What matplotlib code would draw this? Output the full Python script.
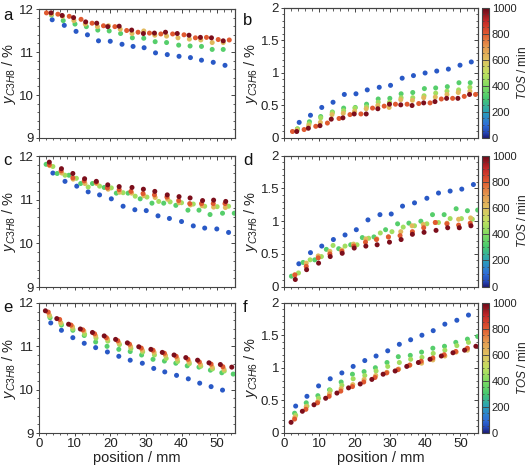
import numpy as np
import matplotlib
matplotlib.use("Agg")
import matplotlib.pyplot as plt
from matplotlib.colors import LinearSegmentedColormap, Normalize
from matplotlib.cm import ScalarMappable
from matplotlib.ticker import MultipleLocator

plt.rcParams['font.family'] = ['Liberation Sans', 'DejaVu Sans']
plt.rcParams['mathtext.fontset'] = 'custom'
plt.rcParams['mathtext.it'] = 'Liberation Sans:italic'
plt.rcParams['mathtext.rm'] = 'Liberation Sans'

# ---------------- data ----------------
# time on stream (min) of each series: blue, green, yellow-green, tan, orange, dark red
tos = [70, 330, 450, 620, 800, 980]

# panel a  (C3H8)
a_x_blue = [3.7, 7.1, 10.4, 13.6, 16.7, 20.0, 23.3, 26.4, 29.5, 32.7, 36.0, 39.3, 42.5, 45.6, 48.9, 52.2]
a_y_blue = [11.75, 11.62, 11.48, 11.40, 11.26, 11.25, 11.18, 11.13, 11.10, 10.98, 10.94, 10.90, 10.87, 10.81, 10.76, 10.69]
a_x_green = [3.5, 6.8, 10.1, 13.3, 16.5, 19.7, 22.9, 26.2, 29.4, 32.6, 35.8, 39.2, 42.4, 45.6, 48.6, 51.7]
a_y_green = [11.86, 11.73, 11.65, 11.59, 11.51, 11.49, 11.43, 11.33, 11.32, 11.24, 11.22, 11.16, 11.14, 11.13, 11.06, 11.06]
a_x_tan = [3.5, 6.6, 9.8, 13.0, 16.4, 19.5, 22.8, 26.1, 29.4, 32.5, 35.8, 39.0, 42.2, 45.4, 48.6, 51.7]
a_y_tan = [11.88, 11.83, 11.73, 11.65, 11.59, 11.61, 11.53, 11.43, 11.49, 11.39, 11.37, 11.33, 11.30, 11.28, 11.22, 11.22]
a_x_orange = [2.1, 5.3, 8.5, 11.8, 14.9, 18.1, 21.3, 24.6, 27.8, 31.0, 34.2, 37.5, 40.7, 43.9, 47.0, 50.3, 53.4]
a_y_orange = [11.91, 11.88, 11.83, 11.76, 11.67, 11.61, 11.59, 11.50, 11.46, 11.44, 11.42, 11.42, 11.40, 11.33, 11.34, 11.29, 11.28]
a_x_dred = [3.4, 6.5, 9.7, 13.1, 16.2, 19.3, 22.5, 26.0, 29.3, 32.4, 35.5, 38.8, 42.1, 45.3, 48.4, 51.7]
a_y_dred = [11.91, 11.85, 11.80, 11.70, 11.67, 11.59, 11.60, 11.51, 11.43, 11.44, 11.46, 11.43, 11.39, 11.34, 11.33, 11.26]

# panel b  (C3H6)
b_x_blue = [4.3, 7.5, 10.7, 13.9, 17.1, 20.4, 23.6, 27.0, 30.2, 33.5, 36.7, 40.0, 43.3, 46.6, 49.9, 53.1]
b_y_blue = [0.24, 0.35, 0.47, 0.55, 0.67, 0.68, 0.74, 0.78, 0.81, 0.92, 0.96, 1.00, 1.03, 1.06, 1.12, 1.17]
b_x_green = [3.8, 7.2, 10.4, 13.7, 16.9, 20.2, 23.4, 26.7, 30.0, 33.2, 36.5, 39.8, 43.0, 46.3, 49.6, 52.8]
b_y_green = [0.14, 0.25, 0.33, 0.40, 0.46, 0.47, 0.52, 0.60, 0.61, 0.68, 0.70, 0.76, 0.77, 0.79, 0.85, 0.85]
b_x_ygreen = [3.8, 7.1, 10.4, 13.7, 16.9, 20.1, 23.4, 26.7, 29.9, 33.2, 36.5, 39.7, 43.0, 46.2, 49.5, 52.7]
b_y_ygreen = [0.14, 0.22, 0.31, 0.39, 0.42, 0.46, 0.48, 0.55, 0.55, 0.62, 0.62, 0.65, 0.69, 0.72, 0.74, 0.78]
b_x_tan = [3.7, 7.0, 10.3, 13.6, 16.8, 20.0, 23.3, 26.6, 29.8, 33.1, 36.4, 39.6, 42.9, 46.2, 49.4, 52.7]
b_y_tan = [0.12, 0.19, 0.24, 0.36, 0.38, 0.41, 0.45, 0.50, 0.47, 0.59, 0.58, 0.62, 0.63, 0.67, 0.70, 0.72]
b_x_orange = [2.4, 5.7, 9.0, 12.3, 15.6, 18.7, 21.8, 25.1, 28.4, 31.6, 34.9, 38.2, 41.4, 44.6, 47.8, 51.1, 54.3]
b_y_orange = [0.10, 0.13, 0.18, 0.23, 0.30, 0.36, 0.37, 0.46, 0.49, 0.52, 0.52, 0.53, 0.54, 0.60, 0.61, 0.64, 0.67]
b_x_dred = [3.6, 6.9, 10.2, 13.4, 16.7, 19.9, 23.3, 26.6, 29.9, 33.1, 36.3, 39.6, 42.8, 46.1, 49.3, 52.6]
b_y_dred = [0.10, 0.15, 0.19, 0.29, 0.31, 0.37, 0.37, 0.45, 0.52, 0.51, 0.50, 0.54, 0.56, 0.61, 0.61, 0.67]

# panel c  (C3H8)
c_x_blue = [3.9, 7.3, 10.6, 13.8, 17.0, 20.3, 23.6, 26.9, 30.1, 33.4, 36.6, 40.0, 43.3, 46.5, 49.9, 53.2]
c_y_blue = [11.61, 11.42, 11.31, 11.18, 11.11, 11.02, 10.85, 10.77, 10.75, 10.63, 10.57, 10.50, 10.40, 10.35, 10.33, 10.25]
c_x_green = [2.0, 5.1, 8.4, 11.7, 15.0, 18.3, 21.7, 25.0, 28.4, 31.7, 35.0, 38.4, 41.8, 44.9, 48.0, 51.5, 54.8]
c_y_green = [11.81, 11.60, 11.56, 11.37, 11.37, 11.28, 11.15, 11.15, 11.02, 10.92, 10.92, 10.87, 10.76, 10.76, 10.66, 10.69, 10.69]
c_x_ygreen = [3.9, 7.3, 10.5, 13.8, 17.0, 20.3, 23.6, 27.0, 30.3, 33.6, 36.8, 40.0, 43.3, 46.5, 50.0, 53.2]
c_y_ygreen = [11.76, 11.56, 11.49, 11.29, 11.31, 11.27, 11.16, 11.08, 11.06, 10.96, 10.95, 10.93, 10.90, 10.85, 10.84, 10.85]
c_x_tan = [3.0, 6.4, 9.6, 12.9, 16.2, 19.4, 22.6, 26.0, 29.4, 32.6, 36.1, 39.3, 42.5, 45.8, 49.0, 52.3]
c_y_tan = [11.78, 11.61, 11.47, 11.37, 11.37, 11.24, 11.17, 11.15, 11.09, 11.05, 11.01, 10.93, 10.88, 10.86, 10.83, 10.82]
c_x_orange = [2.9, 6.2, 9.5, 12.7, 16.0, 19.2, 22.5, 25.8, 29.2, 32.4, 35.9, 39.2, 42.3, 45.6, 48.9, 52.2]
c_y_orange = [11.80, 11.66, 11.50, 11.43, 11.40, 11.27, 11.23, 11.19, 11.14, 11.11, 11.06, 10.98, 10.91, 10.91, 10.91, 10.91]
c_x_dred = [2.9, 6.3, 9.5, 12.8, 16.1, 19.3, 22.5, 26.1, 29.3, 32.5, 36.0, 39.3, 42.4, 45.9, 49.0, 52.4]
c_y_dred = [11.86, 11.71, 11.60, 11.48, 11.42, 11.34, 11.30, 11.28, 11.24, 11.19, 11.11, 11.07, 11.04, 10.98, 10.99, 10.96]

# panel d  (C3H6)
d_x_blue = [4.2, 7.5, 10.7, 14.0, 17.3, 20.5, 23.8, 27.2, 30.4, 33.6, 37.0, 40.5, 43.8, 47.1, 50.4, 53.7]
d_y_blue = [0.35, 0.52, 0.62, 0.72, 0.79, 0.87, 1.02, 1.10, 1.11, 1.23, 1.28, 1.35, 1.43, 1.46, 1.49, 1.56]
d_x_green = [2.1, 5.4, 8.7, 12.0, 15.5, 18.9, 22.2, 25.5, 28.8, 32.2, 35.4, 38.8, 42.1, 45.4, 48.8, 52.0, 54.9]
d_y_green = [0.16, 0.37, 0.41, 0.57, 0.58, 0.64, 0.75, 0.76, 0.87, 0.96, 0.97, 1.00, 1.10, 1.10, 1.19, 1.16, 1.17]
d_x_ygreen = [4.1, 7.4, 10.6, 13.9, 17.3, 20.7, 24.0, 27.3, 30.6, 33.8, 37.0, 40.5, 43.8, 47.1, 50.3, 53.4]
d_y_ygreen = [0.21, 0.41, 0.46, 0.63, 0.62, 0.64, 0.74, 0.82, 0.84, 0.91, 0.93, 0.96, 0.98, 1.04, 1.04, 1.03]
d_x_tan = [3.0, 6.3, 9.7, 13.0, 16.4, 19.7, 23.2, 26.3, 29.6, 33.1, 36.3, 39.5, 42.9, 46.2, 49.5, 52.9]
d_y_tan = [0.18, 0.36, 0.47, 0.54, 0.56, 0.65, 0.73, 0.73, 0.76, 0.84, 0.93, 0.95, 0.98, 0.97, 1.03, 1.05]
d_x_orange = [3.1, 6.3, 9.7, 13.0, 16.4, 19.8, 23.1, 26.2, 29.6, 32.9, 36.4, 39.6, 42.9, 46.2, 49.5, 52.8]
d_y_orange = [0.18, 0.31, 0.44, 0.50, 0.54, 0.62, 0.68, 0.72, 0.76, 0.78, 0.84, 0.90, 0.98, 0.96, 0.94, 0.97]
d_x_dred = [3.2, 6.4, 9.8, 13.1, 16.5, 19.9, 23.2, 26.4, 29.9, 33.2, 36.4, 39.7, 43.1, 46.4, 49.7, 53.0]
d_y_dred = [0.11, 0.26, 0.36, 0.46, 0.51, 0.59, 0.62, 0.64, 0.68, 0.72, 0.80, 0.83, 0.86, 0.90, 0.90, 0.93]

# panel e  (C3H8)
e_x_blue = [3.3, 6.3, 9.5, 12.7, 15.9, 19.2, 22.4, 25.6, 29.0, 32.2, 35.3, 38.6, 41.9, 45.1, 48.3, 51.5]
e_y_blue = [11.54, 11.37, 11.20, 11.07, 10.97, 10.87, 10.77, 10.68, 10.61, 10.49, 10.41, 10.33, 10.25, 10.15, 10.07, 9.99]
e_x_green = [3.1, 6.3, 9.5, 12.7, 15.9, 19.1, 22.4, 25.6, 28.8, 32.0, 35.2, 38.4, 41.6, 44.9, 48.1, 51.3, 54.5]
e_y_green = [11.66, 11.49, 11.37, 11.25, 11.10, 11.00, 10.93, 10.88, 10.80, 10.70, 10.66, 10.61, 10.55, 10.52, 10.45, 10.39, 10.36]
e_x_ygreen = [3.0, 6.2, 9.5, 12.8, 16.0, 19.3, 22.6, 25.8, 29.1, 32.4, 35.7, 38.9, 42.2, 45.4, 48.7, 52.0]
e_y_ygreen = [11.69, 11.52, 11.40, 11.28, 11.19, 11.12, 11.04, 10.95, 10.87, 10.80, 10.72, 10.65, 10.60, 10.54, 10.48, 10.43]
e_x_tan = [2.9, 6.1, 9.4, 12.6, 15.9, 19.2, 22.4, 25.7, 29.0, 32.3, 35.5, 38.8, 42.1, 45.3, 48.6, 51.9]
e_y_tan = [11.72, 11.55, 11.45, 11.35, 11.24, 11.17, 11.08, 11.00, 10.91, 10.86, 10.79, 10.71, 10.64, 10.58, 10.52, 10.47]
e_x_orange = [2.6, 5.8, 9.0, 12.3, 15.6, 18.9, 22.1, 25.4, 28.7, 32.0, 35.2, 38.5, 41.8, 45.0, 48.3, 51.6]
e_y_orange = [11.79, 11.62, 11.49, 11.38, 11.29, 11.20, 11.13, 11.05, 10.96, 10.91, 10.84, 10.77, 10.70, 10.64, 10.59, 10.53]
e_x_dred = [1.8, 5.0, 8.3, 11.6, 15.0, 18.3, 21.5, 24.8, 28.0, 31.4, 34.6, 37.9, 41.2, 44.5, 47.7, 50.9, 54.1]
e_y_dred = [11.82, 11.64, 11.51, 11.40, 11.32, 11.24, 11.16, 11.08, 10.99, 10.93, 10.86, 10.80, 10.74, 10.68, 10.62, 10.58, 10.52]

# panel f  (C3H6)
f_x_blue = [3.3, 6.5, 9.8, 13.1, 16.4, 19.6, 22.9, 26.1, 29.4, 32.7, 35.9, 39.1, 42.3, 45.6, 49.0, 52.3]
f_y_blue = [0.41, 0.56, 0.72, 0.83, 0.92, 1.02, 1.11, 1.18, 1.26, 1.36, 1.43, 1.50, 1.57, 1.67, 1.73, 1.81]
f_x_green = [3.0, 6.3, 9.6, 12.9, 16.2, 19.4, 22.7, 25.9, 29.2, 32.4, 35.8, 39.0, 42.2, 45.5, 48.7, 52.0, 54.9]
f_y_green = [0.30, 0.46, 0.57, 0.66, 0.78, 0.90, 0.94, 1.00, 1.08, 1.17, 1.19, 1.24, 1.30, 1.33, 1.39, 1.44, 1.48]
f_x_ygreen = [3.3, 6.5, 9.8, 13.1, 16.4, 19.6, 22.9, 26.1, 29.4, 32.7, 35.9, 39.1, 42.3, 45.6, 49.0, 52.3]
f_y_ygreen = [0.27, 0.41, 0.53, 0.65, 0.73, 0.83, 0.88, 0.95, 1.02, 1.08, 1.13, 1.16, 1.22, 1.27, 1.34, 1.39]
f_x_tan = [3.1, 6.3, 9.6, 12.9, 16.2, 19.5, 22.7, 26.0, 29.2, 32.5, 35.7, 39.0, 42.2, 45.6, 48.8, 52.0]
f_y_tan = [0.24, 0.40, 0.48, 0.60, 0.68, 0.74, 0.82, 0.88, 0.93, 0.98, 1.04, 1.07, 1.12, 1.18, 1.24, 1.27]
f_x_orange = [3.0, 6.2, 9.5, 12.8, 16.1, 19.4, 22.6, 25.8, 29.1, 32.3, 35.6, 38.9, 42.2, 45.4, 48.7, 52.0]
f_y_orange = [0.21, 0.36, 0.46, 0.56, 0.64, 0.71, 0.78, 0.85, 0.92, 0.97, 1.04, 1.10, 1.15, 1.20, 1.25, 1.30]
f_x_dred = [2.0, 5.2, 8.5, 11.8, 15.0, 18.3, 21.6, 24.9, 28.1, 31.5, 34.8, 38.1, 41.4, 44.6, 47.9, 51.2, 54.4]
f_y_dred = [0.16, 0.33, 0.43, 0.53, 0.61, 0.69, 0.75, 0.82, 0.90, 0.95, 1.02, 1.08, 1.13, 1.18, 1.23, 1.27, 1.33]

# ---------------- colours ----------------
cmap = LinearSegmentedColormap.from_list('tos', [
    (0.00, '#1e1e7a'), (0.04, '#2448b8'), (0.10, '#2f6ed8'),
    (0.20, '#2aa0b8'), (0.30, '#45c870'), (0.40, '#80dc60'),
    (0.50, '#c0e060'), (0.60, '#e0c060'), (0.70, '#e49a50'),
    (0.80, '#e05a30'), (0.90, '#c42828'), (1.00, '#6a0818')])
norm = Normalize(0, 1000)

GREY = '#444444'
TXT = '#222222'
fig = plt.figure(figsize=(5.29, 4.67), dpi=100)


def style(ax, left):
    ax.set_xlim(0, 55)
    ax.xaxis.set_major_locator(MultipleLocator(10))
    ax.xaxis.set_minor_locator(MultipleLocator(2))
    if left:
        ax.set_ylim(9, 12)
        ax.yaxis.set_major_locator(MultipleLocator(1))
        ax.yaxis.set_minor_locator(MultipleLocator(0.2))
    else:
        ax.set_ylim(0, 2)
        ax.set_yticks([0, 0.5, 1, 1.5, 2])
        ax.set_yticklabels(['0', '0.5', '1', '1.5', '2'])
        ax.yaxis.set_minor_locator(MultipleLocator(0.1))
    for s in ax.spines.values():
        s.set_color(GREY)
        s.set_linewidth(0.8)
    ax.tick_params(which='both', colors=GREY, labelcolor=TXT, labelsize=9.5,
                   direction='out', pad=1)
    ax.tick_params(which='major', length=2.5, width=0.7)
    ax.tick_params(which='minor', length=1.5, width=0.6)
    # inward ticks on top and right
    top = ax.secondary_xaxis('top')
    top.xaxis.set_major_locator(MultipleLocator(10))
    top.xaxis.set_minor_locator(MultipleLocator(2))
    top.tick_params(which='both', direction='in', colors=GREY, labeltop=False)
    top.tick_params(which='major', length=3, width=0.7)
    top.tick_params(which='minor', length=1.8, width=0.6)
    right = ax.secondary_yaxis('right')
    right.yaxis.set_major_locator(MultipleLocator(1 if left else 0.5))
    right.yaxis.set_minor_locator(MultipleLocator(0.2 if left else 0.1))
    right.tick_params(which='both', direction='in', colors=GREY, labelright=False)
    right.tick_params(which='major', length=3, width=0.7)
    right.tick_params(which='minor', length=1.8, width=0.6)
    for sec in (top, right):
        for s in sec.spines.values():
            s.set_color(GREY)
            s.set_linewidth(0.8)


def draw(ax, series):
    for t, (xs, ys) in zip(tos, series):
        if xs is None:
            continue
        ax.scatter(xs, ys, c=[t] * len(xs), cmap=cmap, norm=norm, s=13,
                   linewidths=0, zorder=3)


lx, lw = 0.0737, 0.3705
rx, rw = 0.5369, 0.3667
rows = [(0.7045, 0.2762), (0.3854, 0.2805), (0.0728, 0.2784)]
rrows = [(0.7045, 0.2784), (0.3861, 0.2805), (0.0734, 0.2784)]

left_data = [
    [(a_x_blue, a_y_blue), (a_x_green, a_y_green), (None, None), (a_x_tan, a_y_tan),
     (a_x_orange, a_y_orange), (a_x_dred, a_y_dred)],
    [(c_x_blue, c_y_blue), (c_x_green, c_y_green), (c_x_ygreen, c_y_ygreen), (c_x_tan, c_y_tan),
     (c_x_orange, c_y_orange), (c_x_dred, c_y_dred)],
    [(e_x_blue, e_y_blue), (e_x_green, e_y_green), (e_x_ygreen, e_y_ygreen), (e_x_tan, e_y_tan),
     (e_x_orange, e_y_orange), (e_x_dred, e_y_dred)],
]
right_data = [
    [(b_x_blue, b_y_blue), (b_x_green, b_y_green), (b_x_ygreen, b_y_ygreen), (b_x_tan, b_y_tan),
     (b_x_orange, b_y_orange), (b_x_dred, b_y_dred)],
    [(d_x_blue, d_y_blue), (d_x_green, d_y_green), (d_x_ygreen, d_y_ygreen), (d_x_tan, d_y_tan),
     (d_x_orange, d_y_orange), (d_x_dred, d_y_dred)],
    [(f_x_blue, f_y_blue), (f_x_green, f_y_green), (f_x_ygreen, f_y_ygreen), (f_x_tan, f_y_tan),
     (f_x_orange, f_y_orange), (f_x_dred, f_y_dred)],
]
letters_l = ['a', 'c', 'e']
letters_r = ['b', 'd', 'f']
letter_y_l = [0.983, 0.672, 0.357]
letter_y_r = [0.972, 0.672, 0.357]

for i in range(3):
    axl = fig.add_axes([lx, rows[i][0], lw, rows[i][1]])
    style(axl, True)
    draw(axl, left_data[i])
    axl.set_ylabel(r'$y_{C3H8}$ / %', fontsize=10.5, color=TXT)
    axl.yaxis.set_label_coords(-0.105, 0.5)

    axr = fig.add_axes([rx, rrows[i][0], rw, rrows[i][1]])
    style(axr, False)
    draw(axr, right_data[i])
    axr.set_ylabel(r'$y_{C3H6}$ / %', fontsize=10.5, color=TXT)
    axr.yaxis.set_label_coords(-0.125, 0.5)

    if i < 2:
        axl.tick_params(labelbottom=False)
        axr.tick_params(labelbottom=False)
    else:
        axl.set_xlabel('position / mm', fontsize=10.5, color=TXT, labelpad=1)
        axr.set_xlabel('position / mm', fontsize=10.5, color=TXT, labelpad=1)

    cax = fig.add_axes([0.9112, rrows[i][0], 0.0132, rrows[i][1]])
    cb = fig.colorbar(ScalarMappable(norm=norm, cmap=cmap), cax=cax)
    cb.set_ticks([0, 200, 400, 600, 800, 1000])
    cb.ax.yaxis.set_minor_locator(MultipleLocator(50))
    cb.ax.tick_params(which='both', labelsize=8, colors=GREY, labelcolor=TXT,
                      direction='in', left=True, right=True, pad=2)
    cb.ax.tick_params(which='major', length=3, width=0.6)
    cb.ax.tick_params(which='minor', length=1.5, width=0.5)
    cb.outline.set_edgecolor(GREY)
    cb.outline.set_linewidth(0.8)
    cb.set_label(r'$TOS$ / min', fontsize=8.5, color=TXT, labelpad=0)

    fig.text(0.006, letter_y_l[i], letters_l[i], fontsize=12, va='top', color='#111111')
    fig.text(0.459, letter_y_r[i], letters_r[i], fontsize=12, va='top', color='#111111')

fig.savefig('out.png', dpi=100)
